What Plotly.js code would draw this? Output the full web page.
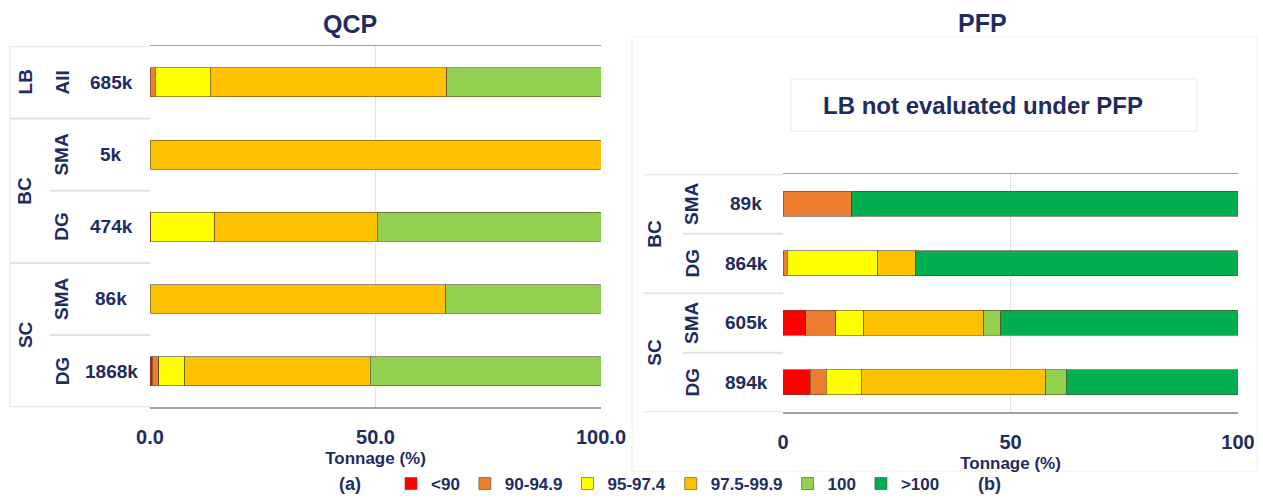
<!DOCTYPE html>
<html>
<head>
<meta charset="utf-8">
<script src="https://cdn.plot.ly/plotly-3.0.1.min.js"></script>
<style>html,body{margin:0;padding:0;background:#fff;}#chart{width:1263px;height:502px;}</style>
</head>
<body>
<div id="chart"></div>
<script>
// ---------- DATA ----------
const classNames = ['<90', '90-94.9', '95-97.4', '97.5-99.9', '100', '>100'];
const classColors = ['#FF0000', '#ED7D31', '#FFFF00', '#FFC000', '#92D050', '#00B050'];

// QCP panel (a)
const qcpGroups = ['LB', 'BC', 'BC', 'SC', 'SC'];
const qcpTypes  = ['All', 'SMA', 'DG', 'SMA', 'DG'];
const qcpCounts = ['685k', '5k', '474k', '86k', '1868k'];
const qcpLt90   = [0,    0,   0,    0,    0.5];
const qcp90     = [1.2,  0,   0.2,  0,    1.4];
const qcp95     = [12.2, 0,   14.2, 0,    5.8];
const qcp975    = [52.4, 100, 36.0, 65.6, 41.1];
const qcp100    = [34.2, 0,   49.6, 34.4, 51.2];
const qcpGt100  = [0,    0,   0,    0,    0];

// PFP panel (b)
const pfpGroups = ['BC', 'BC', 'SC', 'SC'];
const pfpTypes  = ['SMA', 'DG', 'SMA', 'DG'];
const pfpCounts = ['89k', '864k', '605k', '894k'];
const pfpLt90   = [0,    0,    5.0,  6.0];
const pfp90     = [15.1, 0.9,  6.6,  3.5];
const pfp95     = [0,    19.9, 6.2,  7.7];
const pfp975    = [0,    8.4,  26.3, 40.6];
const pfp100    = [0,    0,    3.8,  4.4];
const pfpGt100  = [84.9, 70.8, 52.1, 37.8];

const qcpTicks = [0, 50, 100];
const pfpTicks = [0, 50, 100];

const qcpSeries = [qcpLt90, qcp90, qcp95, qcp975, qcp100, qcpGt100];
const pfpSeries = [pfpLt90, pfp90, pfp95, pfp975, pfp100, pfpGt100];

// ---------- STYLE ----------
const W = 1263, H = 502;
const px = v => v / W;
const NAVY = '#1F2C5E';
const FONT = 'Liberation Sans, Arial, sans-serif';
const outline = 'rgba(85,70,40,0.6)';
const LBL = 19;

const traces = [];
classNames.forEach((name, k) => {
  traces.push({
    type: 'bar', orientation: 'h', name: name,
    x: qcpSeries[k], y: qcpCounts, xaxis: 'x', yaxis: 'y',
    marker: {color: classColors[k], line: {color: outline, width: 1}},
    width: 0.4, legendgroup: name, showlegend: true, hoverinfo: 'x+name'
  });
  traces.push({
    type: 'bar', orientation: 'h', name: name,
    x: pfpSeries[k], y: pfpCounts, xaxis: 'x2', yaxis: 'y2',
    marker: {color: classColors[k], line: {color: outline, width: 1}},
    width: 0.42, legendgroup: name, showlegend: false, hoverinfo: 'x+name'
  });
});

const tickFont = {family: FONT, size: 20, color: NAVY, weight: 'bold'};

function xAxis(domain, tickvals, fmt, anchor) {
  return {
    domain: domain, range: [0, 100], anchor: anchor,
    tickvals: tickvals, tickformat: fmt, ticks: '',
    showline: true, mirror: true, linecolor: '#a0a0a0', linewidth: 1.5,
    showgrid: true, gridcolor: '#e3e3e3', gridwidth: 1.5, zeroline: false,
    tickfont: tickFont, ticklabelstandoff: 11,
    title: {text: 'Tonnage (%)', font: {family: FONT, size: 17, color: NAVY, weight: 'bold'}, standoff: 5},
    fixedrange: true
  };
}
function yAxis(domain, cats, anchor) {
  return {
    domain: domain, type: 'category', categoryorder: 'array', categoryarray: cats,
    range: [cats.length - 0.5, -0.5], anchor: anchor,
    showticklabels: false, ticks: '', showgrid: false, zeroline: false,
    showline: false, fixedrange: true
  };
}

const shapes = [];
const annotations = [];

function buildTable(groups, types, counts, yref, xFull, xPart, xAxisPx, xGroup, xType, xCount) {
  const n = groups.length;
  const lineStyle = {color: '#e2e2e2', width: 2};
  [-0.5, n - 0.5].forEach(v => shapes.push({type: 'line', xref: 'paper', yref: yref,
    x0: px(xFull), x1: px(xAxisPx), y0: v, y1: v, line: lineStyle, layer: 'below'}));
  for (let i = 0; i < n - 1; i++) {
    const full = groups[i] !== groups[i + 1];
    shapes.push({type: 'line', xref: 'paper', yref: yref,
      x0: px(full ? xFull : xPart), x1: px(xAxisPx), y0: i + 0.5, y1: i + 0.5,
      line: lineStyle, layer: 'below'});
  }
  for (let i = 0; i < n; i++) {
    annotations.push({xref: 'paper', yref: yref, x: px(xCount), y: i, text: counts[i],
      showarrow: false, xanchor: 'center', yanchor: 'middle',
      font: {family: FONT, size: LBL, color: NAVY, weight: 'bold'}});
    annotations.push({xref: 'paper', yref: yref, x: px(xType), y: i, text: types[i],
      showarrow: false, textangle: -90, xanchor: 'center', yanchor: 'middle',
      font: {family: FONT, size: LBL, color: NAVY, weight: 'bold'}});
  }
  let start = 0;
  for (let i = 1; i <= n; i++) {
    if (i === n || groups[i] !== groups[start]) {
      annotations.push({xref: 'paper', yref: yref, x: px(xGroup), y: (start + i - 1) / 2,
        text: groups[start], showarrow: false, textangle: -90, xanchor: 'center', yanchor: 'middle',
        font: {family: FONT, size: LBL, color: NAVY, weight: 'bold'}});
      start = i;
    }
  }
}

buildTable(qcpGroups, qcpTypes, qcpCounts, 'y', 10, 50, 150, 25, 62, 111);
buildTable(pfpGroups, pfpTypes, pfpCounts, 'y2', 643, 683, 783, 655, 692, 746);

// faint frame lines
shapes.push({type: 'line', xref: 'paper', yref: 'paper', x0: px(10), x1: px(10),
  y0: 1 - 413 / H, y1: 1 - 47 / H, line: {color: '#efefef', width: 1.5}, layer: 'below'});
shapes.push({type: 'rect', xref: 'paper', yref: 'paper', x0: px(632), x1: px(1257),
  y0: 1 - 478 / H, y1: 1 - 37 / H, line: {color: '#f5f5f5', width: 1.5}, layer: 'below'});
// note box
shapes.push({type: 'rect', xref: 'paper', yref: 'paper', x0: px(791), x1: px(1197),
  y0: 1 - 133 / H, y1: 1 - 80 / H, line: {color: '#f2f2f2', width: 1.5}, layer: 'below'});

annotations.push({xref: 'paper', yref: 'paper', x: px(983), y: 1 - 107 / H,
  text: 'LB not evaluated under PFP', showarrow: false, xanchor: 'center', yanchor: 'middle',
  font: {family: FONT, size: 24, color: NAVY, weight: 'bold'}});
annotations.push({xref: 'paper', yref: 'paper', x: px(350), y: 1 - 24 / H,
  text: 'QCP', showarrow: false, xanchor: 'center', yanchor: 'middle',
  font: {family: FONT, size: 25, color: NAVY, weight: 'bold'}});
annotations.push({xref: 'paper', yref: 'paper', x: px(982), y: 1 - 23 / H,
  text: 'PFP', showarrow: false, xanchor: 'center', yanchor: 'middle',
  font: {family: FONT, size: 25, color: NAVY, weight: 'bold'}});
annotations.push({xref: 'paper', yref: 'paper', x: px(350), y: 1 - 491 / H,
  text: '(a)', showarrow: false, xanchor: 'center', yanchor: 'middle',
  font: {family: FONT, size: 18, color: NAVY, weight: 'bold'}});
annotations.push({xref: 'paper', yref: 'paper', x: px(990), y: 1 - 491 / H,
  text: '(b)', showarrow: false, xanchor: 'center', yanchor: 'middle',
  font: {family: FONT, size: 18, color: NAVY, weight: 'bold'}});

const layout = {
  width: W, height: H,
  margin: {l: 0, r: 0, t: 0, b: 0},
  paper_bgcolor: '#ffffff', plot_bgcolor: '#ffffff',
  barmode: 'stack', bargap: 0.6,
  font: {family: FONT, color: NAVY},
  xaxis: xAxis([px(150), px(601)], qcpTicks, '.1f', 'y'),
  yaxis: yAxis([1 - 413 / H, 1 - 47 / H], qcpCounts, 'x'),
  xaxis2: xAxis([px(783), px(1238)], pfpTicks, 'd', 'y2'),
  yaxis2: yAxis([1 - 418 / H, 1 - 176.7 / H], pfpCounts, 'x2'),
  showlegend: true,
  legend: {
    orientation: 'h', x: px(668), xanchor: 'center', y: 1 - 491 / H, yanchor: 'middle',
    font: {family: FONT, size: 17, color: NAVY, weight: 'bold'},
    traceorder: 'normal', itemwidth: 30, bgcolor: 'rgba(0,0,0,0)', tracegroupgap: 0
  },
  shapes: shapes,
  annotations: annotations
};

Plotly.newPlot('chart', traces, layout, {displayModeBar: false, staticPlot: true});
</script>
</body>
</html>
